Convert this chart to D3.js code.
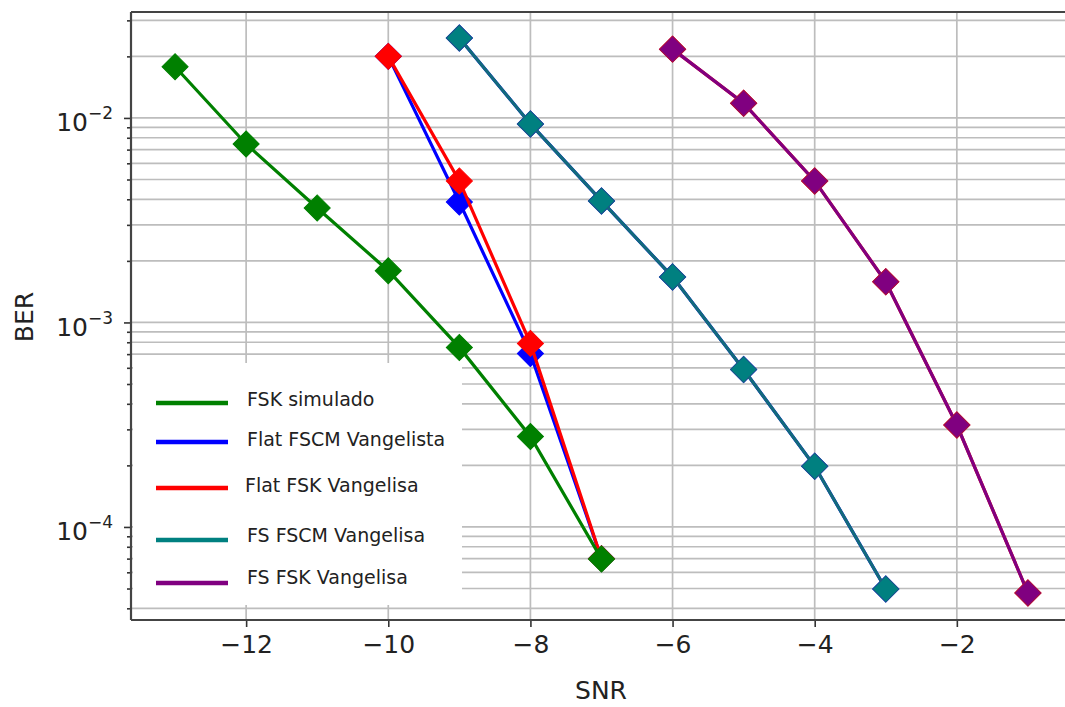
<!DOCTYPE html>
<html>
<head>
<meta charset="utf-8">
<script src="https://cdn.jsdelivr.net/npm/d3@7"></script>
<style>
  html, body { margin: 0; padding: 0; background: #fff; overflow: hidden; }
  svg { display: block; font-family: "DejaVu Sans", sans-serif; }
</style>
</head>
<body>
<svg id="chart" width="1065" height="707"></svg>
<script>
// ---- data ----
const snrGreen  = [-13, -12, -11, -10, -9, -8, -7];
const berGreen  = [0.0178, 0.00746, 0.00363, 0.00179, 0.000755, 0.000277, 0.0000698];
const snrFlat   = [-10, -9, -8, -7];
const berBlue   = [0.0200, 0.00388, 0.000704, 0.0000700];
const berRed    = [0.0200, 0.00492, 0.000790, 0.0000700];
const snrTeal   = [-9, -8, -7, -6, -5, -4, -3];
const berTeal   = [0.0246, 0.00935, 0.00393, 0.00167, 0.000589, 0.000198, 0.0000497];
const snrPurple = [-6, -5, -4, -3, -2, -1];
const berPurple = [0.0217, 0.0118, 0.00492, 0.00158, 0.000315, 0.0000476];
const xTicks = [-12, -10, -8, -6, -4, -2];
const yMajor = [1e-4, 1e-3, 1e-2];
const yMajorLabels = ["−4", "−3", "−2"];
const legendLabels = ["FSK simulado", "Flat FSCM Vangelista", "Flat FSK Vangelisa", "FS FSCM Vangelisa", "FS FSK Vangelisa"];

// ---- layout ----
const L = 131, T = 12, R = 1067, B = 620;
const svg = d3.select("#chart");
const x = d3.scaleLinear().domain([-13.62, -0.45]).range([L, R]);
const y = d3.scaleLog().domain([Math.pow(10, -1.482), Math.pow(10, -4.455)]).range([T, B]);

const yMinor = [];
for (let e = -5; e <= -1; e++) for (let m = 2; m <= 9; m++) {
  const v = m * Math.pow(10, e);
  if (v >= y.domain()[1] && v <= y.domain()[0]) yMinor.push(v);
}

svg.append("defs").append("clipPath").attr("id", "clip")
  .append("rect").attr("x", L).attr("y", T).attr("width", R - L).attr("height", B - T);

// grid
const grid = svg.append("g").attr("clip-path", "url(#clip)");
grid.selectAll("line.h").data(yMajor.concat(yMinor)).join("line")
  .attr("x1", L).attr("x2", R).attr("y1", d => y(d)).attr("y2", d => y(d))
  .attr("stroke", "#bdbdbd").attr("stroke-width", 1.7);
grid.selectAll("line.v").data(xTicks).join("line")
  .attr("x1", d => x(d)).attr("x2", d => x(d)).attr("y1", T).attr("y2", B)
  .attr("stroke", "#bdbdbd").attr("stroke-width", 1.7);

// legend box (drawn over grid)
svg.append("rect").attr("x", 133).attr("y", 363).attr("width", 329).attr("height", 242)
  .attr("fill", "#fff");

// series
const line = (xs) => d3.line().x((d, i) => x(xs[i])).y(d => y(d));
const diamond = d3.symbol().type(d3.symbolSquare).size(340);
function drawSeries(xs, ys, lineColor, fill, edge) {
  const g = svg.append("g").attr("clip-path", "url(#clip)");
  g.append("path").datum(ys).attr("d", line(xs)).attr("fill", "none")
    .attr("stroke", lineColor).attr("stroke-width", 3.2);
  g.selectAll("path.m").data(ys).join("path")
    .attr("d", diamond)
    .attr("transform", (d, i) => `translate(${x(xs[i])},${y(d)}) rotate(45)`)
    .attr("fill", fill).attr("stroke", edge).attr("stroke-width", 1);
}
drawSeries(snrFlat, berBlue, "#0000ff", "#0000ff", "#0000ff");
drawSeries(snrFlat, berRed, "#ff0000", "#ff0000", "#ff0000");
drawSeries(snrTeal, berTeal, "#0000ff", "#0000ff", "#0000ff");
drawSeries(snrTeal, berTeal, "#136a7c", "#008080", "#1a5c82");
drawSeries(snrPurple, berPurple, "#ff0000", "#ff0000", "#ff0000");
drawSeries(snrPurple, berPurple, "#800080", "#800080", "#a0104a");
drawSeries(snrGreen, berGreen, "#008000", "#008000", "#008000");

// axes
const axisStyle = g => {
  g.select(".domain").remove();
  g.selectAll(".tick line").attr("stroke", "#333").attr("stroke-width", 1.6);
};
svg.append("g").attr("transform", `translate(0,${B})`)
  .call(d3.axisBottom(x).tickValues(xTicks).tickSize(7).tickPadding(8)
    .tickFormat(d => d < 0 ? "−" + Math.abs(d) : String(d)))
  .call(axisStyle)
  .call(g => g.selectAll(".tick text").attr("font-size", 25).attr("fill", "#222")
    .attr("font-family", "DejaVu Sans"));

const yAx = svg.append("g").attr("transform", `translate(${L},0)`)
  .call(d3.axisLeft(y).tickValues(yMajor).tickSize(7).tickFormat(() => ""))
  .call(axisStyle);
yAx.selectAll(".tick text").remove();
yAx.selectAll(".tick").each(function(d, i) {
  const t = d3.select(this).append("text").attr("x", -18).attr("y", 13)
    .attr("text-anchor", "end").attr("fill", "#222").attr("font-family", "DejaVu Sans");
  t.append("tspan").attr("font-size", 25).text("10");
  t.append("tspan").attr("font-size", 17).attr("dy", -12).text(yMajorLabels[yMajor.indexOf(d)]);
});
svg.append("g").attr("transform", `translate(${L},0)`)
  .call(d3.axisLeft(y).tickValues(yMinor).tickSize(4).tickFormat(() => ""))
  .call(axisStyle);

// spines
svg.append("line").attr("x1", L).attr("x2", L).attr("y1", T).attr("y2", B)
  .attr("stroke", "#444").attr("stroke-width", 2.2);
svg.append("line").attr("x1", L).attr("x2", R).attr("y1", B).attr("y2", B)
  .attr("stroke", "#444").attr("stroke-width", 2.2);
svg.append("line").attr("x1", L).attr("x2", R).attr("y1", T).attr("y2", T)
  .attr("stroke", "#444").attr("stroke-width", 2.2);

// axis labels
svg.append("text").attr("x", 601).attr("y", 699).attr("text-anchor", "middle")
  .attr("font-size", 25).attr("fill", "#222").text("SNR");
svg.append("text").attr("transform", "translate(33,317) rotate(-90)").attr("text-anchor", "middle")
  .attr("font-size", 25).attr("fill", "#222").text("BER");

// legend
const legColors = ["#008000", "#0000ff", "#ff0000", "#008080", "#800080"];
const legLineY = [403, 442, 488, 540, 583];
const legTextX = [247, 247, 245, 247, 247];
const legTextY = [406, 446, 492, 542, 584];
const lg = svg.append("g");
legendLabels.forEach((lab, i) => {
  lg.append("line").attr("x1", 156).attr("x2", 228).attr("y1", legLineY[i]).attr("y2", legLineY[i])
    .attr("stroke", legColors[i]).attr("stroke-width", 4.5);
  lg.append("text").attr("x", legTextX[i]).attr("y", legTextY[i])
    .attr("font-size", 19).attr("fill", "#222").text(lab);
});
</script>
</body>
</html>
